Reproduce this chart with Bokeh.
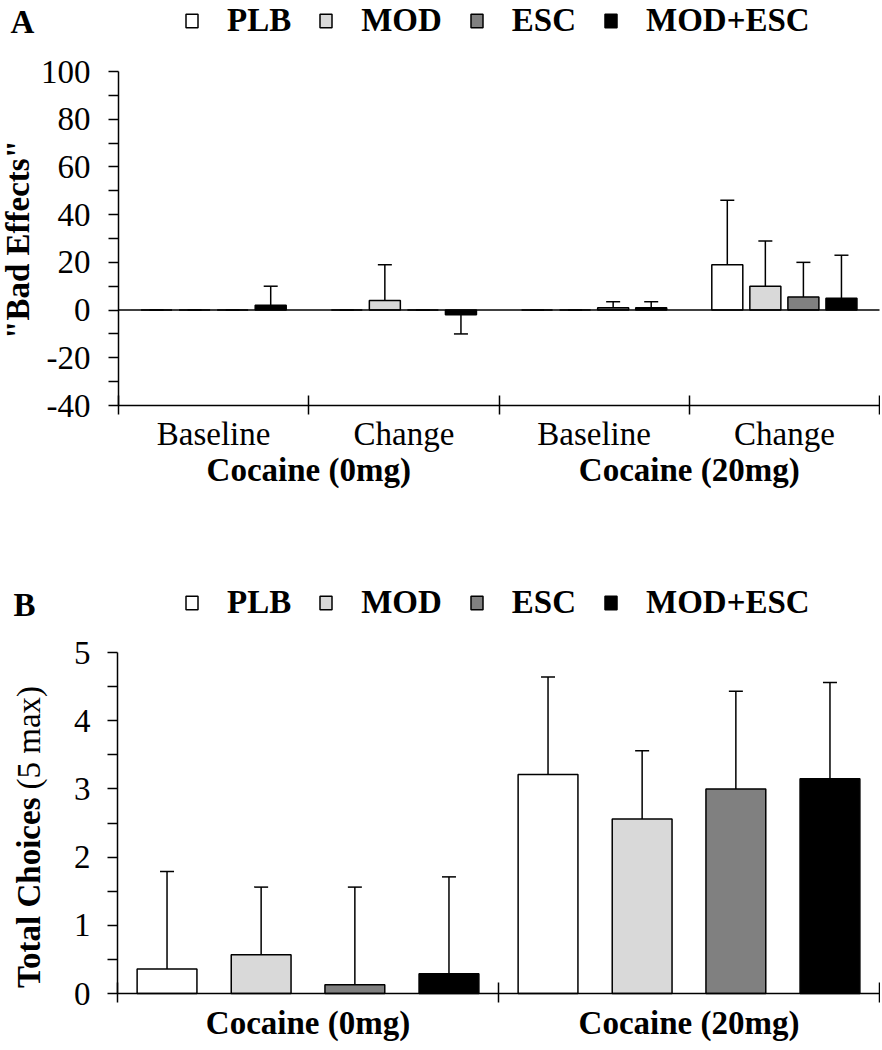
import math
from bokeh.plotting import figure
from bokeh.models import (Range1d, FixedTicker, LinearAxis, ColumnDataSource, Whisker,
                          TeeHead, Legend, LegendItem, Label)
from bokeh.layouts import column
from bokeh.embed import file_html
from bokeh.resources import INLINE

# ---------------- data ----------------
treatments = ["PLB", "MOD", "ESC", "MOD+ESC"]

# Panel A: "Bad Effects"
a_conditions = ["Baseline", "Change", "Baseline", "Change"]
a_doses = ["Cocaine (0mg)", "Cocaine (20mg)"]
a_plb = [0, 0, 0, 19]
a_mod = [0, 4, 0, 10]
a_esc = [0, 0, 1, 5.5]
a_modesc = [2, -2, 1, 5]
a_plb_err = [0, 0, 0, 27]
a_mod_err = [0, 15, 0, 19]
a_esc_err = [0, 0, 2.5, 14.5]
a_modesc_err = [8, 8, 2.5, 18]
a_ticks = [-40, -20, 0, 20, 40, 60, 80, 100]
a_minor = [-30, -10, 10, 30, 50, 70, 90]

# Panel B: Total Choices
b_doses = ["Cocaine (0mg)", "Cocaine (20mg)"]
b_plb = [0.36, 3.21]
b_mod = [0.57, 2.56]
b_esc = [0.13, 3.00]
b_modesc = [0.29, 3.15]
b_plb_err = [1.43, 1.43]
b_mod_err = [0.99, 1.00]
b_esc_err = [1.43, 1.43]
b_modesc_err = [1.42, 1.41]
b_ticks = [0, 1, 2, 3, 4, 5]
b_minor = [0.5, 1.5, 2.5, 3.5, 4.5]

# ---------------- style / layout ----------------
FONT = "Liberation Serif"
FILLS = ["#ffffff", "#d9d9d9", "#808080", "#000000"]
LW = 1.5
FS = "33px"
W, H = 880, 525


def x_span(d0, p0, d1, p1):
    s = (p1 - p0) / (d1 - d0)
    start = d0 - p0 / s
    return Range1d(start, start + W / s)


def y_span(d_top, p_top, d_bot, p_bot):
    s = (p_bot - p_top) / (d_top - d_bot)
    end = d_top + p_top / s
    return Range1d(end - H / s, end)


def base_fig(xr, yr):
    p = figure(width=W, height=H, x_range=xr, y_range=yr,
               x_axis_type=None, y_axis_type=None,
               toolbar_location=None, output_backend="svg",
               min_border=0, min_border_left=0, min_border_right=0,
               min_border_top=0, min_border_bottom=0)
    p.outline_line_color = None
    p.grid.visible = False
    p.background_fill_color = "white"
    p.border_fill_color = "white"
    return p


def add_yaxis(p, ticks, minor, xbase, standoff):
    ax = LinearAxis(ticker=FixedTicker(ticks=ticks, minor_ticks=minor),
                    fixed_location=xbase, bounds=(ticks[0], ticks[-1]))
    ax.axis_line_width = LW
    ax.major_tick_line_width = LW
    ax.minor_tick_line_width = LW
    ax.major_tick_in = 0
    ax.major_tick_out = 10
    ax.minor_tick_in = 0
    ax.minor_tick_out = 10
    ax.major_label_standoff = standoff
    ax.major_label_overrides = {t: f"{t:g}" for t in ticks}
    ax.major_label_text_font = FONT
    ax.major_label_text_font_size = FS
    ax.major_label_text_color = "black"
    p.add_layout(ax, "left")


def add_boundary_axis(p, n, ybase, tin, tout):
    ticks = list(range(n + 1))
    ax = LinearAxis(ticker=FixedTicker(ticks=ticks, minor_ticks=[]),
                    fixed_location=ybase, bounds=(0, n))
    ax.axis_line_width = LW
    ax.major_tick_line_width = LW
    ax.major_tick_in = tin
    ax.major_tick_out = tout
    ax.major_label_text_font_size = "0px"
    ax.major_label_overrides = {t: "" for t in ticks}
    ax.major_label_standoff = 0
    p.add_layout(ax, "below")


def add_label_axis(p, labels, span, ybase, bold, standoff):
    ticks = [span * i + span / 2 for i in range(len(labels))]
    ax = LinearAxis(ticker=FixedTicker(ticks=ticks, minor_ticks=[]),
                    fixed_location=ybase)
    ax.axis_line_color = None
    ax.major_tick_line_color = None
    ax.minor_tick_line_color = None
    ax.major_tick_in = 0
    ax.major_tick_out = 0
    ax.minor_tick_in = 0
    ax.minor_tick_out = 0
    ax.major_label_overrides = {t: lab for t, lab in zip(ticks, labels)}
    ax.major_label_standoff = standoff
    ax.major_label_text_font = FONT
    ax.major_label_text_font_size = FS
    ax.major_label_text_font_style = "bold" if bold else "normal"
    ax.major_label_text_color = "black"
    p.add_layout(ax, "below")


def add_bars(p, series, errs, offsets, width):
    renderers = []
    for k, (vals, ers) in enumerate(zip(series, errs)):
        xs = [g + 0.5 + offsets[k] for g in range(len(vals))]
        ends = [v + (e if v >= 0 else -e) for v, e in zip(vals, ers)]
        src = ColumnDataSource(dict(x=xs, top=vals, end=ends))
        r = p.vbar(x="x", top="top", bottom=0, width=width, source=src,
                   fill_color=FILLS[k], line_color="black", line_width=LW)
        renderers.append(r)
        w = Whisker(base="x", lower="top", upper="end", source=src,
                    line_color="black", line_width=LW, level="annotation",
                    upper_head=TeeHead(size=14, line_color="black", line_width=LW),
                    lower_head=None)
        p.add_layout(w)
    return renderers


def add_legend(p, renderers, loc):
    items = [LegendItem(label=t, renderers=[r]) for t, r in zip(treatments, renderers)]
    lg = Legend(items=items, orientation="horizontal", location=loc,
                label_text_font=FONT, label_text_font_size=FS,
                label_text_font_style="bold", label_text_color="black",
                glyph_width=15, glyph_height=17, label_standoff=28, spacing=27,
                padding=0, margin=0, border_line_color=None,
                background_fill_alpha=0)
    p.add_layout(lg)


def text_label(p, txt, x, y, bold=True, angle=0.0, align="left", baseline="alphabetic"):
    p.add_layout(Label(x=x, y=y, x_units="screen", y_units="screen", text=txt,
                       angle=angle, text_align=align, text_baseline=baseline,
                       text_font=FONT, text_font_size=FS,
                       text_font_style="bold" if bold else "normal",
                       text_color="black"))


# ---------------- panel A ----------------
nA = len(a_conditions)
pA = base_fig(x_span(0, 118, nA, 879), y_span(a_ticks[-1], 71, a_ticks[0], 405))
add_yaxis(pA, a_ticks, a_minor, 0, 18)
add_boundary_axis(pA, nA, a_ticks[0], 10, 9)
add_label_axis(pA, a_conditions, 1, a_ticks[0], False, 10)
add_label_axis(pA, a_doses, 2, a_ticks[0], True, 46)
rA = add_bars(pA,
              [a_plb, a_mod, a_esc, a_modesc],
              [a_plb_err, a_mod_err, a_esc_err, a_modesc_err],
              [-0.3, -0.1, 0.1, 0.3], 0.163)
pA.segment(x0=0, x1=nA, y0=0, y1=0, line_color="black", line_width=LW)
add_legend(pA, rA, (184, 486))
text_label(pA, "A", 10, 504)
text_label(pA, '"Bad Effects"', 17, 286, angle=math.pi / 2, align="center", baseline="middle")

# ---------------- panel B ----------------
nB = len(b_doses)
pB = base_fig(x_span(0, 117, nB, 879), y_span(b_ticks[-1], 127, b_ticks[0], 468))
add_yaxis(pB, b_ticks, b_minor, 0, 17)
add_boundary_axis(pB, nB, b_ticks[0], 11, 9)
add_label_axis(pB, b_doses, 1, b_ticks[0], True, 11)
rB = add_bars(pB,
              [b_plb, b_mod, b_esc, b_modesc],
              [b_plb_err, b_mod_err, b_esc_err, b_modesc_err],
              [-0.37, -0.123, 0.123, 0.37], 0.157)
add_legend(pB, rB, (184, 429))
text_label(pB, "B", 13, 446)
text_label(pB, "Total Choices", 28, 253, angle=math.pi / 2, align="right", baseline="middle")
text_label(pB, "(5 max)", 28, 261, bold=False, angle=math.pi / 2, align="left", baseline="middle")

layout = column(pA, pB)
open("out.html", "w").write(file_html(layout, INLINE))
